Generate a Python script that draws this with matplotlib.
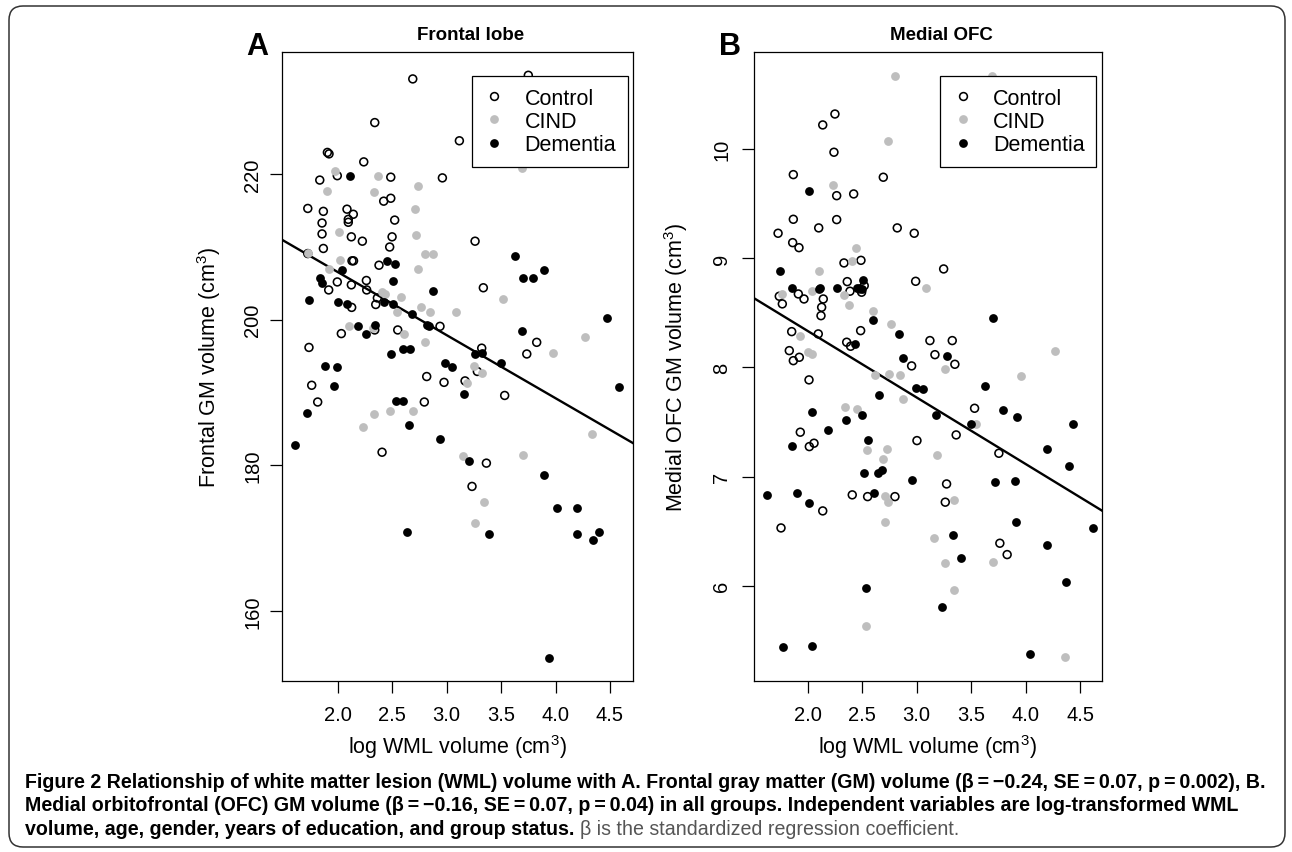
import matplotlib
matplotlib.use("Agg")
import matplotlib.pyplot as plt
from matplotlib.patches import FancyBboxPatch
from matplotlib.lines import Line2D

plt.rcParams["font.family"] = ["Liberation Sans", "DejaVu Sans"]
plt.rcParams["mathtext.fontset"] = "custom"
plt.rcParams["mathtext.rm"] = "Liberation Sans"
plt.rcParams["mathtext.it"] = "Liberation Sans"

groups = ["Control", "CIND", "Dementia"]

# Panel A: frontal lobe GM volume vs log WML volume
a_ctrl_x = [2.689, 2.340, 1.905, 1.920, 2.239, 1.835, 1.996, 2.487, 1.725, 1.868, 2.085, 2.143,
            2.097, 2.097, 2.422, 2.487, 2.523, 1.856, 1.856, 2.125, 2.226, 2.499, 2.477, 1.868,
            1.725, 2.131, 2.145, 2.379, 1.996, 1.917, 2.125, 2.263, 2.266, 2.128, 2.349, 2.364,
            2.033, 2.551, 2.340, 1.736, 1.761, 1.816, 2.407, 2.817, 2.795, 3.750, 3.117, 2.961,
            3.261, 3.337, 2.939, 3.827, 3.736, 3.322, 3.282, 2.976, 3.169, 3.533, 3.365, 3.233]
a_ctrl_y = [233.1, 227.1, 223.0, 222.8, 221.7, 219.2, 219.8, 219.6, 215.3, 214.9, 215.2, 214.5,
            213.8, 213.4, 216.3, 216.7, 213.7, 213.3, 211.8, 211.4, 210.8, 211.4, 210.0, 209.8,
            209.1, 208.1, 208.1, 207.5, 205.2, 204.1, 204.8, 205.4, 204.1, 201.7, 202.1, 203.0,
            198.1, 198.6, 198.6, 196.2, 191.0, 188.7, 181.8, 192.2, 188.7, 233.6, 224.6, 219.5,
            210.8, 204.4, 199.1, 196.9, 195.3, 196.1, 192.9, 191.4, 191.6, 189.6, 180.3, 177.1]

a_cind_x = [1.975, 2.370, 1.905, 2.333, 2.735, 2.710, 2.009, 2.722, 2.802, 2.735, 1.730, 2.024,
            1.923, 2.407, 2.430, 2.579, 2.762, 2.542, 2.104, 2.612, 2.320, 2.802, 2.229, 2.333,
            2.477, 2.689, 2.878, 2.848, 3.084, 3.521, 3.690, 4.271, 3.974, 3.252, 3.328, 3.190,
            4.332, 3.148, 3.699, 3.341, 3.264]
a_cind_y = [220.5, 219.8, 217.7, 217.6, 218.4, 215.2, 212.1, 211.6, 209.0, 207.0, 209.2, 208.2,
            207.0, 203.8, 203.5, 203.1, 201.8, 201.1, 199.2, 198.1, 198.9, 196.9, 185.3, 187.0,
            187.4, 187.5, 209.1, 201.1, 201.1, 202.9, 220.9, 197.6, 195.4, 193.7, 192.7, 191.3,
            184.3, 181.3, 181.4, 175.0, 172.1]

a_dem_x = [2.116, 2.450, 2.529, 2.039, 1.837, 1.853, 2.511, 1.734, 2.006, 2.083, 2.425, 2.511,
           2.685, 2.817, 2.189, 2.257, 2.345, 2.492, 2.597, 2.664, 1.886, 1.994, 1.969, 1.715,
           1.611, 2.535, 2.603, 2.655, 2.634, 2.841, 3.628, 3.699, 3.796, 3.894, 2.878, 4.476,
           3.690, 3.261, 3.322, 3.497, 2.985, 3.047, 3.160, 4.586, 2.939, 3.208, 3.894, 4.011,
           4.195, 3.389, 4.195, 4.399, 4.347, 3.943]
a_dem_y = [219.7, 208.1, 207.6, 206.9, 205.7, 205.0, 205.3, 202.7, 202.4, 202.2, 202.4, 202.2,
           200.8, 199.3, 199.2, 198.1, 199.3, 195.3, 196.0, 196.0, 193.7, 193.5, 190.9, 187.2,
           182.8, 188.8, 188.8, 185.5, 170.9, 199.1, 208.7, 205.7, 205.8, 206.8, 204.0, 200.2,
           198.4, 195.3, 195.5, 194.1, 194.1, 193.5, 189.8, 190.8, 183.6, 180.6, 178.6, 174.1,
           174.2, 170.6, 170.6, 170.9, 169.7, 153.5]

# Panel B: medial OFC GM volume vs log WML volume
b_ctrl_x = [2.138, 1.868, 1.868, 2.101, 1.728, 1.862, 1.920, 1.739, 1.767, 1.914, 1.966, 2.143,
            2.128, 2.122, 1.853, 2.097, 2.250, 2.241, 2.694, 2.266, 2.422, 2.266, 2.822, 2.978,
            2.333, 2.489, 3.248, 2.991, 2.363, 2.480, 2.519, 2.495, 2.388, 2.486, 3.122, 3.327,
            1.831, 1.868, 1.923, 2.012, 1.932, 2.015, 2.058, 2.138, 1.755, 2.358, 2.394, 3.168,
            3.351, 2.954, 3.532, 3.363, 3.003, 3.755, 2.409, 2.550, 2.801, 3.275, 3.263, 3.764,
            3.831]
b_ctrl_y = [10.22, 9.765, 9.356, 9.277, 9.228, 9.142, 9.096, 8.651, 8.581, 8.672, 8.626, 8.626,
            8.550, 8.473, 8.327, 8.306, 10.32, 9.970, 9.741, 9.572, 9.588, 9.353, 9.277, 9.228,
            8.956, 8.980, 8.901, 8.788, 8.785, 8.718, 8.748, 8.688, 8.697, 8.336, 8.245, 8.245,
            8.153, 8.061, 8.092, 7.885, 7.406, 7.274, 7.305, 6.685, 6.529, 8.230, 8.193, 8.116,
            8.028, 8.013, 7.625, 7.381, 7.329, 7.213, 6.832, 6.816, 6.816, 6.932, 6.765, 6.389,
            6.285]

b_cind_x = [1.761, 2.104, 2.037, 1.929, 2.804, 3.694, 2.737, 2.235, 2.440, 2.404, 3.085, 2.333,
            2.379, 2.596, 2.761, 2.006, 2.037, 2.617, 2.749, 2.847, 2.877, 3.260, 2.342, 2.455,
            3.544, 2.547, 2.725, 2.694, 3.189, 2.709, 2.739, 3.345, 2.712, 3.161, 3.263, 3.703,
            3.342, 3.960, 2.533, 4.270, 4.360]
b_cind_y = [8.672, 8.880, 8.697, 8.290, 10.666, 10.666, 10.073, 9.670, 9.091, 8.977, 8.730, 8.663,
            8.571, 8.514, 8.395, 8.144, 8.123, 7.930, 7.940, 7.930, 7.711, 7.985, 7.635, 7.619,
            7.482, 7.246, 7.253, 7.161, 7.198, 6.825, 6.765, 6.786, 6.584, 6.438, 6.206, 6.215,
            5.962, 7.924, 5.634, 8.150, 5.350]

b_dem_x = [2.015, 1.746, 1.859, 2.113, 2.100, 2.272, 2.450, 2.510, 2.495, 2.602, 2.838, 3.697,
           2.037, 2.189, 1.859, 1.627, 1.899, 2.015, 2.434, 2.877, 3.275, 2.657, 2.994, 3.061,
           3.627, 3.177, 3.498, 3.795, 3.923, 2.349, 2.501, 2.556, 2.517, 2.648, 2.679, 2.957,
           3.718, 3.902, 2.608, 3.911, 3.330, 3.409, 2.535, 3.229, 1.773, 2.040, 4.040, 4.370,
           4.440, 4.200, 4.400, 4.620, 4.200]
b_dem_y = [9.613, 8.880, 8.730, 8.730, 8.715, 8.730, 8.730, 8.800, 8.718, 8.437, 8.306, 8.450,
           7.594, 7.427, 7.283, 6.834, 6.850, 6.761, 8.214, 8.086, 8.101, 7.750, 7.811, 7.802,
           7.833, 7.567, 7.482, 7.613, 7.543, 7.521, 7.567, 7.338, 7.030, 7.033, 7.063, 6.966,
           6.953, 6.963, 6.850, 6.581, 6.465, 6.257, 5.977, 5.806, 5.437, 5.450, 5.375, 6.030,
           7.480, 7.250, 7.100, 6.530, 6.370]

# fitted lines: intercept, slope
a_fit = [223.9, -8.67]
b_fit = [9.551, -0.609]

a_yticks = [160, 180, 200, 220]
b_yticks = [6, 7, 8, 9, 10]
xticks = [2.0, 2.5, 3.0, 3.5, 4.0, 4.5]

W, H = 1292, 853
fig = plt.figure(figsize=(W / 100, H / 100), dpi=100)

# rounded frame around the whole figure
frame = FancyBboxPatch((0.09, 0.05), 12.76, 8.41, boxstyle="round,pad=0,rounding_size=0.14",
                       transform=fig.dpi_scale_trans, fill=False, edgecolor="#333333", lw=1.1)
fig.patches.append(frame)


def px_ax(left, right, top=53, bottom=681.7):
    return [left / W, 1 - bottom / H, (right - left) / W, (bottom - top) / H]


axA = fig.add_axes(px_ax(282.3, 633.3))
axB = fig.add_axes(px_ax(754, 1101.7))

GRAY = "#bebebe"


def panel(ax, ctrl, cind, dem, fit, xlim, ylim, yticks, ylabel, ylab_x, ytick_pad):
    ax.scatter(ctrl[0], ctrl[1], s=32, facecolors="none", edgecolors="black", linewidths=1.15, zorder=3)
    ax.scatter(cind[0], cind[1], s=40, color=GRAY, linewidths=0, zorder=3)
    ax.scatter(dem[0], dem[1], s=40, color="black", linewidths=0, zorder=3)
    ax.axline((0, fit[0]), slope=fit[1], color="black", lw=1.7, zorder=2)
    ax.set_xlim(xlim)
    ax.set_ylim(ylim)
    ax.set_xticks(xticks)
    ax.set_xticklabels([f"{t:.1f}" for t in xticks])
    ax.set_yticks(yticks)
    ax.set_yticklabels([str(t) for t in yticks], rotation=90, va="center")
    ax.tick_params(axis="both", direction="out", length=8.4, width=0.9, labelsize=14.5)
    ax.tick_params(axis="x", pad=9)
    ax.tick_params(axis="y", pad=ytick_pad)
    for s in ax.spines.values():
        s.set_linewidth(0.9)
    ax.set_xlabel("log WML volume (cm$^3$)", fontsize=15.5)
    ax.xaxis.set_label_coords(0.5, -0.082)
    ax.set_ylabel(ylabel, fontsize=15.5)
    ax.yaxis.set_label_coords(ylab_x, 0.5)
    handles = [
        Line2D([], [], ls="none", marker="o", ms=5.6, mfc="none", mec="black", mew=1.15),
        Line2D([], [], ls="none", marker="o", ms=6.3, mfc=GRAY, mec=GRAY, mew=0),
        Line2D([], [], ls="none", marker="o", ms=6.3, mfc="black", mec="black", mew=0),
    ]
    leg = ax.legend(handles, groups, loc="upper right", bbox_to_anchor=(0.985, 0.962),
                    borderaxespad=0, fontsize=15.5, fancybox=False, edgecolor="black",
                    framealpha=1, handlelength=1.0, handletextpad=0.9, labelspacing=0.1,
                    borderpad=0.55)
    leg.get_frame().set_linewidth(0.9)
    leg.set_zorder(5)


panel(axA, (a_ctrl_x, a_ctrl_y), (a_cind_x, a_cind_y), (a_dem_x, a_dem_y), a_fit,
      (1.491, 4.714), (150.4, 236.8), a_yticks, "Frontal GM volume (cm$^3$)", -0.17, 6)
panel(axB, (b_ctrl_x, b_ctrl_y), (b_cind_x, b_cind_y), (b_dem_x, b_dem_y), b_fit,
      (1.507, 4.699), (5.13, 10.888), b_yticks, "Medial OFC GM volume (cm$^3$)", -0.185, 8)

fig.text(471 / W, 1 - 35 / H, "Frontal lobe", ha="center", va="center", fontsize=13.5, fontweight="bold")
fig.text(941 / W, 1 - 35 / H, "Medial OFC", ha="center", va="center", fontsize=13.5, fontweight="bold")
fig.text(257.5 / W, 1 - 47 / H, "A", ha="center", va="center", fontsize=22, fontweight="bold")
fig.text(730 / W, 1 - 47 / H, "B", ha="center", va="center", fontsize=22, fontweight="bold")

cap_font = ["Liberation Sans Narrow", "Liberation Sans", "DejaVu Sans"]
cap_kw = dict(fontsize=14.1, va="center", ha="left", family=cap_font)
fig.text(25 / W, 1 - 783 / H, "Figure 2 Relationship of white matter lesion (WML) volume with A. Frontal gray matter (GM) "
         "volume (\u03b2\u2009=\u2009\u22120.24, SE\u2009=\u20090.07, p\u2009=\u20090.002), B.", fontweight="bold", **cap_kw)
fig.text(25 / W, 1 - 806 / H, "Medial orbitofrontal (OFC) GM volume (\u03b2\u2009=\u2009\u22120.16, SE\u2009=\u20090.07, "
         "p\u2009=\u20090.04) in all groups. Independent variables are log-transformed WML", fontweight="bold", **cap_kw)
t3 = fig.text(25 / W, 1 - 830 / H, "volume, age, gender, years of education, and group status. ",
              fontweight="bold", **cap_kw)
fig.text(0, 0, "")
plt.annotate("\u03b2 is the standardized regression coefficient.", xy=(1, 0.5), xycoords=t3,
             va="center", ha="left", fontsize=14.1, color="#555555", family=cap_font)

fig.savefig("out.png", dpi=100)
